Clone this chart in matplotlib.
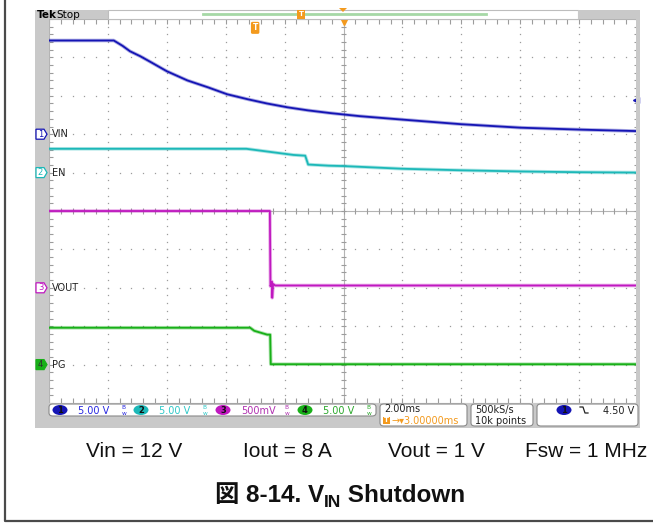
import numpy as np
import matplotlib
matplotlib.use('Agg')
import matplotlib.pyplot as plt
from matplotlib.patches import Rectangle, FancyBboxPatch, Ellipse, Polygon
from matplotlib.lines import Line2D
from matplotlib.collections import LineCollection

W, H = 653, 523

# captured waveforms: time in ms from the trigger point, level in volts
vin_t = [-7.0, -4.8, -4.5, -4.25, -3.9, -3.55, -3.0, -2.3, -1.6, -0.95, -0.25, 0.4, 1.1,
         1.8, 2.55, 3.55, 5.0, 7.0, 9.0, 11.0, 13.0]
vin_v = [12.2, 12.2, 11.5, 10.8, 10.15, 9.4, 8.2, 7.0, 6.1, 5.2, 4.55, 4.0, 3.5,
         3.1, 2.75, 2.35, 1.9, 1.3, 0.85, 0.6, 0.4]
en_t = [-7.0, -0.3, 1.3, 1.7, 1.8, 2.5, 3.0, 5.0, 7.0, 9.0, 11.0, 13.0]
en_v = [3.1, 3.1, 2.3, 2.2, 1.05, 0.9, 0.85, 0.5, 0.3, 0.15, 0.05, 0.0]
vout_t = [-7.0, 0.50, 0.52, 0.57, 0.58, 0.61, 0.68, 13.0]
vout_v = [1.0, 1.0, 0.02, 0.08, -0.13, 0.05, 0.03, 0.03]
pg_t = [-7.0, -0.17, -0.03, 0.41, 0.51, 0.53, 13.0]
pg_v = [4.8, 4.8, 4.4, 3.9, 3.9, 0.05, 0.05]

ch_names = ['VIN', 'EN', 'VOUT', 'PG']
ch_colors = ['#1414b4', '#1cb8b8', '#c018c0', '#18b018']
ch_text_colors = ['#2626e0', '#2ec8c8', '#b030b0', '#2aa82a']
ch_scale = [5.0, 5.0, 0.5, 5.0]      # V/div
ch_offset = [2.0, 1.0, -2.0, -4.0]   # div
ch_scale_labels = ['5.00 V', '5.00 V', '500mV', '5.00 V']

trig_level = 4.5
trig_delay = 3.0   # ms, trigger to screen centre
time_div = 2.0     # ms/div

notes = ['Vin = 12 V', 'Iout = 8 A', 'Vout = 1 V', 'Fsw = 1 MHz']

GRAY = '#c9c9c9'
ORANGE = '#f39a1e'


def fx(x):
    return x / W


def fy(y):
    return 1 - y / H


def rect(x0, y0, x1, y1, **kw):
    fig.add_artist(Rectangle((fx(x0), fy(y1)), (x1 - x0) / W, (y1 - y0) / H,
                             transform=fig.transFigure, **kw))


def rbox(x0, y0, x1, y1):
    fig.add_artist(FancyBboxPatch((fx(x0), fy(y1)), (x1 - x0) / W, (y1 - y0) / H,
                                  boxstyle='round,pad=0,rounding_size=0.006',
                                  transform=fig.transFigure, fc='white', ec='#8a8a8a', lw=0.8))


def ftext(x, y, s, **kw):
    kw.setdefault('va', 'center')
    kw.setdefault('ha', 'left')
    fig.text(fx(x), fy(y), s, **kw)


fig = plt.figure(figsize=(W / 100, H / 100), dpi=100)
fig.patch.set_facecolor('white')

# scope body: left strip, bottom status strip, top bar
rect(35, 10, 49, 428, fc=GRAY, ec='none')
rect(35, 403, 640, 428, fc=GRAY, ec='none')
rect(636, 10, 640, 428, fc=GRAY, ec='none')
rect(35, 10, 108, 19, fc=GRAY, ec='none')
rect(108, 10, 578, 19, fc='white', ec='#bdbdbd', lw=0.8)
rect(578, 10, 640, 19, fc=GRAY, ec='none')
fig.add_artist(Line2D([fx(203), fx(486)], [fy(14), fy(14)], transform=fig.transFigure,
                      color='#a6d8a6', lw=2.0))
ftext(37, 14.5, 'Tek', fontsize=7.5, fontweight='bold', color='black')
ftext(56, 14.5, 'Stop', fontsize=7.5, color='black')
ftext(301, 14.5, 'T', fontsize=5, color='white', ha='center', fontweight='bold',
      bbox=dict(boxstyle='square,pad=0.15', fc=ORANGE, ec='none'))
fig.add_artist(Polygon([[fx(339), fy(8)], [fx(347), fy(8)], [fx(343), fy(12)]],
                       closed=True, transform=fig.transFigure, fc=ORANGE, ec='none'))

# graticule
ax = fig.add_axes([fx(49), fy(403), 589 / W, 384 / H])
xmin = trig_delay - 5 * time_div
xmax = trig_delay + 5 * time_div
ax.set_xlim(xmin, xmax)
ax.set_ylim(-5, 5)
ax.axis('off')

sub_x = xmin + time_div * np.arange(0, 10.01, 0.2)
sub_y = np.arange(-5, 5.01, 0.2)
dot_kw = dict(ls='none', marker='s', ms=0.9, mew=0, color='#9c9c9c')
for i in [1, 2, 3, 4, 6, 7, 8, 9]:
    ax.plot(np.full(sub_y.size, xmin + time_div * i), sub_y, **dot_kw)
for j in [-4, -3, -2, -1, 1, 2, 3, 4]:
    ax.plot(sub_x, np.full(sub_x.size, j), **dot_kw)

ax.axhline(0, color='#b4b4b4', lw=0.8)
ax.axvline(trig_delay, color='#b4b4b4', lw=0.8)
segs = []
for x in sub_x:
    segs.append([(x, -0.08), (x, 0.08)])
    segs.append([(x, 5), (x, 4.88)])
    segs.append([(x, -5), (x, -4.88)])
for y in sub_y:
    segs.append([(trig_delay - 0.1, y), (trig_delay + 0.1, y)])
    segs.append([(xmin, y), (xmin + 0.14, y)])
    segs.append([(xmax, y), (xmax - 0.14, y)])
ax.add_collection(LineCollection(segs, colors='#9c9c9c', lw=0.8))
ax.plot([xmin, xmax, xmax, xmin, xmin], [-5, -5, 5, 5, -5], color='#b4b4b4', lw=0.8)

# waveforms
traces = [(vin_t, vin_v), (en_t, en_v), (vout_t, vout_v), (pg_t, pg_v)]
for (t, v), c, s, o in zip(traces, ch_colors, ch_scale, ch_offset):
    y = o + np.array(v) / s
    ax.plot(t, y, color=c, lw=2.6, alpha=0.35, solid_joinstyle='round')
    ax.plot(t, y, color=c, lw=1.3, solid_joinstyle='round')

# trigger markers
ax.plot([trig_delay], [4.93], marker='v', ms=5, color=ORANGE, clip_on=False)
ax.text(0, 4.77, 'T', fontsize=5.5, color='white', ha='center', va='center', fontweight='bold',
        bbox=dict(boxstyle='round,pad=0.2', fc=ORANGE, ec='none'))
ax.plot([xmax - 0.08], [ch_offset[0] + trig_level / ch_scale[0]], marker='<', ms=4,
        color=ch_colors[0], clip_on=False)

# channel ground markers and labels
for k, (name, c, o) in enumerate(zip(ch_names, ch_colors, ch_offset)):
    ypx = 211 - o * 38.4
    fc = c if k == 3 else 'white'
    fig.add_artist(Polygon([[fx(36), fy(ypx - 5)], [fx(44), fy(ypx - 5)], [fx(47), fy(ypx)],
                            [fx(44), fy(ypx + 5)], [fx(36), fy(ypx + 5)]],
                           closed=True, transform=fig.transFigure, fc=fc, ec=c, lw=0.9))
    ftext(40.5, ypx, str(k + 1), fontsize=6, ha='center', color='#303030' if k == 3 else c)
    ftext(52, ypx, name, fontsize=7, color='#202020')

# status bar
rbox(49, 404, 376, 416)
ch_x = [60, 141, 223, 305]
for k in range(4):
    x = ch_x[k]
    fig.add_artist(Ellipse((fx(x), fy(410)), 15 / W, 10 / H, transform=fig.transFigure,
                           fc=ch_colors[k], ec='none'))
    ftext(x, 410.5, str(k + 1), fontsize=6, ha='center', color='#101010', fontweight='bold')
    ftext(x + 18, 410.5, ch_scale_labels[k], fontsize=7, color=ch_text_colors[k])
    ftext(x + 64, 410.5, r'$^{\mathrm{B}}_{\mathrm{w}}$', fontsize=6, color=ch_text_colors[k],
          ha='center')

rbox(380, 404, 467, 426)
ftext(384, 409.5, '2.00ms', fontsize=7, color='#202020')
ftext(384, 420.5, 'T', fontsize=5, color='white', fontweight='bold',
      bbox=dict(boxstyle='square,pad=0.12', fc=ORANGE, ec='none'))
ftext(391, 420.5, '\u2192\u25be3.00000ms', fontsize=7, color=ORANGE)

rbox(471, 404, 533, 426)
ftext(475, 409.5, '500kS/s', fontsize=7, color='#202020')
ftext(475, 420.5, '10k points', fontsize=7, color='#202020')

rbox(537, 404, 638, 426)
fig.add_artist(Ellipse((fx(564), fy(410)), 15 / W, 10 / H, transform=fig.transFigure,
                       fc=ch_colors[0], ec='none'))
ftext(564, 410.5, '1', fontsize=6, ha='center', color='#101010', fontweight='bold')
fig.add_artist(Line2D([fx(580), fx(583), fx(585), fx(588)],
                      [fy(407), fy(407), fy(413), fy(413)],
                      transform=fig.transFigure, color='#202020', lw=0.9))
ftext(634, 410.5, f'{trig_level:.2f} V', fontsize=7, color='#202020', ha='right')

# test conditions
note_x = [134.5, 287, 436, 586]
for x, s in zip(note_x, notes):
    ftext(x, 451.5, s, fontsize=15, ha='center', family='Liberation Sans', color='#111111')

# figure caption with subscript, laid out piece by piece
renderer = fig.canvas.get_renderer()
cap_parts = [('\u56f3 8-14. V', 17.5, 0), ('IN', 12.5, 5), (' Shutdown', 17.5, 0)]
cap_texts = []
total = 0
for s, size, dy in cap_parts:
    t = fig.text(0, 0, s, fontsize=size, fontweight='bold', color='#111111',
                 family=['Liberation Sans', 'Noto Sans CJK JP'], va='baseline')
    w = t.get_window_extent(renderer).width
    cap_texts.append((t, w, dy))
    total += w
x = 340 - total / 2
for t, w, dy in cap_texts:
    t.set_position((fx(x), fy(502 + dy)))
    x += w

# page frame
fig.add_artist(Line2D([fx(5), fx(5), fx(653)], [fy(0), fy(520.5), fy(520.5)],
                      transform=fig.transFigure, color='#4a4a4a', lw=1.6))

fig.savefig('out.png', dpi=100, facecolor='white')
